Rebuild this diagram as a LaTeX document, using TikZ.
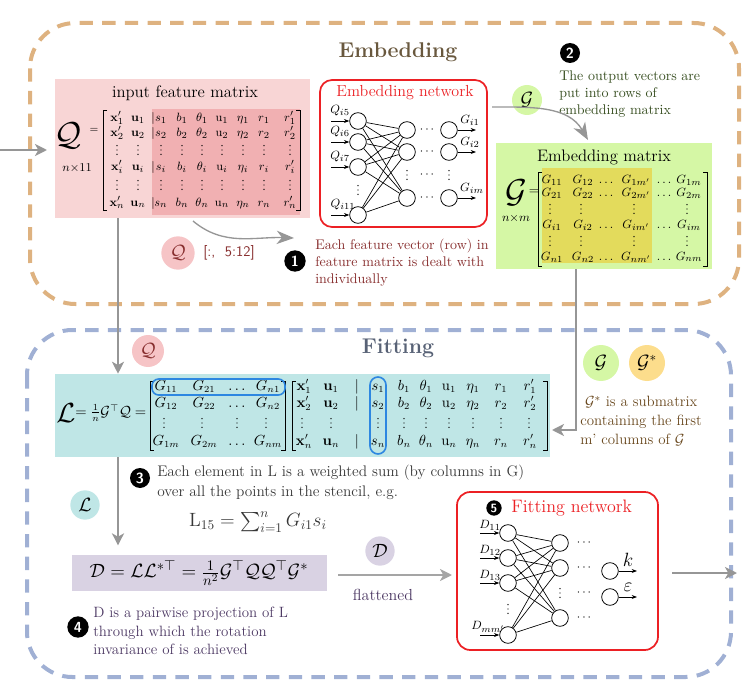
\documentclass[tikz,border=0pt]{standalone}
\usepackage{amsmath}
\usetikzlibrary{arrows.meta,fit,calc}
\definecolor{tanline}{RGB}{222,178,128}
\definecolor{blueline}{RGB}{160,176,212}
\definecolor{pinkbg}{RGB}{248,213,213}
\definecolor{pinkdark}{RGB}{241,176,178}
\definecolor{greenbg}{RGB}{213,247,165}
\definecolor{yellowbg}{RGB}{227,219,92}
\definecolor{tealbg}{RGB}{191,230,230}
\definecolor{lavbg}{RGB}{217,210,227}
\definecolor{orangebg}{RGB}{252,221,140}
\definecolor{pinkcirc}{RGB}{246,196,198}
\definecolor{arrowgrey}{RGB}{150,150,150}
\definecolor{embtitle}{RGB}{105,88,62}
\definecolor{fittitle}{RGB}{88,98,118}
\definecolor{txtred}{RGB}{135,45,45}
\definecolor{txtgreen}{RGB}{55,78,32}
\definecolor{txtbrown}{RGB}{105,72,30}
\definecolor{txtpurple}{RGB}{75,55,98}
\definecolor{txtgrey}{RGB}{55,55,55}
\definecolor{netred}{RGB}{236,32,36}
\definecolor{hlblue}{RGB}{45,135,225}
\begin{document}
\begin{tikzpicture}[x=0.75pt,y=-0.75pt,
  ent/.style={inner sep=0pt, text height=1.5ex, text depth=0.4ex},
  vd/.style={inner sep=0pt},
  vdp/.pic={\fill (0,-4.4) circle (0.5pt); \fill (0,0) circle (0.5pt); \fill (0,4.4) circle (0.5pt);},
  neuron/.style={circle, draw, line width=0.6pt, minimum size=12.5pt, inner sep=0pt},
  nlink/.style={line width=0.5pt},
  narrow/.style={line width=0.6pt, -{Stealth[length=4pt,width=3pt]}},
  garrow/.style={draw=arrowgrey, line width=1.5pt, -{Stealth[length=9pt,width=9pt,inset=2.5pt]}},
  carrow/.style={draw=arrowgrey, line width=1pt, -{Stealth[length=13pt,width=10pt,inset=4pt]}},
  bubble/.style={circle, inner sep=0pt, font=\fontsize{14}{14}\selectfont},
  numc/.style={circle, fill=black, text=white, inner sep=0pt, minimum size=15pt, font=\sffamily\bfseries\fontsize{11}{11}\selectfont},
  brk/.style={line width=0.6pt},
  tx/.style={inner sep=0pt, anchor=west, align=left},
  dashbox/.style={line width=3pt, dash pattern=on 10pt off 7pt, rounded corners=34pt}
]
\useasboundingbox (0,0) rectangle (747,699);

% ---------- dashed frames ----------
\draw[dashbox, tanline] (30,23) rectangle (739,304);
\draw[dashbox, blueline] (27,330) rectangle (731,677);
\node[font=\bfseries\fontsize{16}{18}\selectfont, text=embtitle] (embt) at (398,52) {Embedding};
\node[font=\bfseries\fontsize{16}{18}\selectfont, text=fittitle] (fitt) at (398,348) {Fitting};

% ---------- input feature matrix ----------
\node[fit={(55,79) (310,218)}, inner sep=0pt, fill=pinkbg] (pinkbox) {};
\fill[pinkdark] (152,109) rectangle (300,215);
\node[font=\fontsize{12.5}{14}\selectfont] (qtitle) at (185,93) {input feature matrix};
\node[font=\fontsize{24}{24}\selectfont] (qsym) at (68,136) {$\mathcal{Q}$};
\node[font=\fontsize{8}{8}\selectfont] (qeq) at (94,130) {$=$};
\node[font=\fontsize{9}{9}\selectfont] (qdim) at (77,168) {$n{\times}11$};
\draw[brk] (107,110) -- (103,110) -- (103,210) -- (107,210);
\draw[brk] (296,110) -- (300,110) -- (300,210) -- (296,210);
\begin{scope}[font=\fontsize{9.5}{10}\selectfont]
\foreach \yy/\s in {118/1,133/2,167/i,203/n}{
  \node[ent] (qx\s) at (117,\yy) {$\mathbf{x}'_{\s}$};
  \node[ent] (qu\s) at (138,\yy) {$\mathbf{u}_{\s}$};
  \node[ent] (qv\s) at (153,\yy) {$|$};
  \node[ent] (qs\s) at (161,\yy) {$s_{\s}$};
  \node[ent] (qb\s) at (182,\yy) {$b_{\s}$};
  \node[ent] (qt\s) at (202,\yy) {$\theta_{\s}$};
  \node[ent] (qr\s) at (222,\yy) {$\mathrm{u}_{\s}$};
  \node[ent] (qe\s) at (243,\yy) {$\eta_{\s}$};
  \node[ent] (qo\s) at (264,\yy) {$r_{\s}$};
  \node[ent] (qp\s) at (290,\yy) {$r'_{\s}$};
}
\end{scope}
\foreach \yy in {150,185}{
  \foreach \xx in {117,138,161,182,202,222,243,264,290}{
    \pic at (\xx,\yy) {vdp};
  }
}

% ---------- embedding network ----------
\node[fit={(320,80) (487,227)}, inner sep=0pt, draw=netred, line width=1.3pt, rounded corners=9pt, fill=white] (enetbox) {};
\node[text=netred, font=\fontsize{12}{13}\selectfont] (enettitle) at (405,93) {Embedding network};
\foreach \i/\yy in {1/121,2/142,3/167,4/215}{
  \node[neuron] (ei\i) at (358,\yy) {};
  \coordinate (ea\i) at (331,\yy);
  \draw[narrow] (ea\i) -- (ei\i);
}
\foreach \i/\yy in {1/130,2/152,3/198}{
  \node[neuron] (eh\i) at (407,\yy) {};
  \node[neuron] (eo\i) at (449,\yy) {};
  \coordinate (eb\i) at (476,\yy);
  \draw[narrow] (eo\i) -- (eb\i);
}
\foreach \a in {1,...,4}{\foreach \b in {1,2,3}{\draw[nlink] (ei\a) -- (eh\b);}}
\begin{scope}[font=\fontsize{9.5}{9.5}\selectfont]
\node (lq5) at (340,111) {$Q_{i5}$};
\node (lq6) at (340,132) {$Q_{i6}$};
\node (lq7) at (340,157) {$Q_{i7}$};
\node (lq11) at (343,205) {$Q_{i11}$};
\node (lg1) at (470,120) {$G_{i1}$};
\node (lg2) at (470,142) {$G_{i2}$};
\node (lg3) at (472,188) {$G_{im}$};
\foreach \yy/\k in {130/1,152/2,175/3,198/4}{\node[vd] (ec\k) at (428,\yy) {$\cdots$};}
\end{scope}
\pic at (358,190) {vdp};
\pic at (407,175) {vdp};
\pic at (449,175) {vdp};

% ---------- embedding matrix ----------
\node[fit={(496,143) (712,269)}, inner sep=0pt, fill=greenbg] (gbox) {};
\fill[yellowbg] (542,168) rectangle (652,263);
\node[font=\fontsize{12.5}{14}\selectfont] (gtitle) at (604,157) {Embedding matrix};
\node[font=\fontsize{24}{24}\selectfont] (gsym) at (516,193) {$\mathcal{G}$};
\node[font=\fontsize{10}{10}\selectfont] (geq) at (534,192) {$=$};
\node[font=\fontsize{9.5}{9.5}\selectfont] (gdim) at (516,218) {$n{\times}m$};
\draw[brk] (542,172) -- (538,172) -- (538,266) -- (542,266);
\draw[brk] (703,172) -- (707,172) -- (707,266) -- (703,266);
\begin{scope}[font=\fontsize{9.5}{10}\selectfont]
\foreach \yy/\s in {180/1,193/2,225/i,257/n}{
  \node[ent] (ga\s) at (552,\yy) {$G_{\s1}$};
  \node[ent] (gb\s) at (583,\yy) {$G_{\s2}$};
  \node[ent] (gc\s) at (606,\yy) {$\ldots$};
  \node[ent] (gd\s) at (636,\yy) {$G_{\s m'}$};
  \node[ent] (ge\s) at (664,\yy) {$\ldots$};
  \node[ent] (gf\s) at (689,\yy) {$G_{\s m}$};
}
\end{scope}
\foreach \yy in {209,241}{
  \foreach \xx in {550,581,634,687}{
    \pic at (\xx,\yy) {vdp};
  }
}

% ---------- notes in embedding ----------
\node[bubble, fill=greenbg, minimum size=22.5pt] (bg1) at (527,100) {$\mathcal{G}$};
\node[numc] (n2) at (570,53) {2};
\node[tx, text=txtgreen, font=\fontsize{10.5}{12.75}\selectfont] (t2) at (559,94) {The output vectors are\\put into rows of\\embedding matrix};
\node[bubble, fill=pinkcirc, minimum size=25pt, text=txtred] (bq1) at (178,253) {$\mathcal{Q}$};
\node[text=txtred, font=\sffamily\fontsize{11}{12}\selectfont] (slice) at (229,253) {[:,~~5:12]};
\node[numc, minimum size=16pt] (n1) at (295,261) {1};
\node[tx, text=txtred, font=\fontsize{10.5}{12.75}\selectfont] (t1) at (315,263) {Each feature vector (row) in\\feature matrix is dealt with\\individually};
\coordinate (c1s) at (193,221);
\coordinate (c1e) at (294,238);
\draw[carrow] (c1s) to[out=-40,in=178] (c1e);
\coordinate (c2s) at (492,107);
\coordinate (c2e) at (588,140);
\draw[carrow] (c2s) to[out=0,in=120] (c2e);

% ---------- L box ----------
\node[fit={(55,374) (550,457)}, inner sep=0pt, fill=tealbg] (Lbox) {};
\node[font=\fontsize{20}{20}\selectfont] (Lsym) at (66,413) {$\mathcal{L}$};
\node[tx, font=\fontsize{10.5}{12}\selectfont] (Leq) at (75,413) {$=\tfrac{1}{n}\mathcal{G}^{\top}\mathcal{Q}=$};
\draw[brk] (154,381) -- (150,381) -- (150,450) -- (154,450);
\draw[brk] (281,381) -- (285,381) -- (285,450) -- (281,450);
\draw[brk] (296,381) -- (292,381) -- (292,450) -- (296,450);
\draw[brk] (543,381) -- (547,381) -- (547,450) -- (543,450);
\begin{scope}[font=\fontsize{10.5}{11}\selectfont]
\foreach \yy/\s/\t in {387/1/1,404/2/2,442/m/n}{
  \node[ent] (la\s) at (166,\yy) {$G_{1\s}$};
  \node[ent] (lb\s) at (204,\yy) {$G_{2\s}$};
  \node[ent] (lc\s) at (237,\yy) {$\ldots$};
  \node[ent] (ld\s) at (268,\yy) {$G_{n\s}$};
  \node[ent] (mx\t) at (304,\yy) {$\mathbf{x}'_{\t}$};
  \node[ent] (mu\t) at (331,\yy) {$\mathbf{u}_{\t}$};
  \node[ent] (mv\t) at (357,\yy) {$|$};
  \node[ent] (ms\t) at (378,\yy) {$s_{\t}$};
  \node[ent] (mb\t) at (404,\yy) {$b_{\t}$};
  \node[ent] (mt\t) at (426,\yy) {$\theta_{\t}$};
  \node[ent] (mr\t) at (449,\yy) {$\mathrm{u}_{\t}$};
  \node[ent] (me\t) at (473,\yy) {$\eta_{\t}$};
  \node[ent] (mo\t) at (501,\yy) {$r_{\t}$};
  \node[ent] (mp\t) at (530,\yy) {$r'_{\t}$};
}
\end{scope}
\foreach \xx in {164,202,237,266,302,331,378,404,426,449,473,501,529}{
  \pic at (\xx,423) {vdp};
}
\draw[hlblue, line width=1.2pt, rounded corners=5pt] (152,379) rectangle (285,395);
\draw[hlblue, line width=1.2pt, rounded corners=6pt] (370,377) rectangle (386,454);

% ---------- G, G* notes ----------
\node[bubble, fill=greenbg, minimum size=27pt] (bg2) at (601,363) {$\mathcal{G}$};
\node[bubble, fill=orangebg, minimum size=27pt] (bgs) at (647,363) {$\mathcal{G}^{*}$};
\node[tx, text=txtbrown, font=\fontsize{11.2}{14}\selectfont] (tg) at (580,421) {~$\mathcal{G}^{*}$ is a submatrix\\containing the first\\m' columns of $\mathcal{G}$};

% ---------- vertical connectors ----------
\coordinate (qxc) at (118,0);
\draw[garrow] (pinkbox.south -| qxc) -- (Lbox.north -| qxc);
\node[bubble, fill=pinkcirc, minimum size=24pt, text=txtred] (bq2) at (148,351) {$\mathcal{Q}$};
\coordinate (gxc) at (576,0);
\coordinate (Lin) at (552,430);
\draw[garrow] (gbox.south -| gxc) -- (gxc |- Lin) -- (Lin);

% ---------- step 3 ----------
\node[numc] (n3) at (140,478) {3};
\node[tx, text=txtgrey, font=\fontsize{11.5}{15}\selectfont] (t3) at (157,482) {Each element in L is a weighted sum (by columns in G)\\over all the points in the stencil, e.g.};
\node[text=txtgrey, font=\fontsize{14}{16}\selectfont] (sumf) at (258,522) {$\mathrm{L}_{15}=\sum_{i=1}^{n}G_{i1}s_i$};
\node[bubble, fill=tealbg, minimum size=22pt] (bl) at (85,505) {$\mathcal{L}$};

% ---------- D box ----------
\node[fit={(72,555) (327,591)}, inner sep=0pt, fill=lavbg] (Dbox) {};
\node[font=\fontsize{15.5}{17}\selectfont] (Dform) at (199,573) {$\mathcal{D}=\mathcal{L}\mathcal{L}^{*\top}=\tfrac{1}{n^2}\mathcal{G}^{\top}\mathcal{Q}\mathcal{Q}^{\top}\mathcal{G}^{*}$};
\draw[garrow, shorten >=7pt] (Lbox.south -| qxc) -- (Dbox.north -| qxc);
\node[numc, minimum size=16pt] (n4) at (78,627) {4};
\node[tx, text=txtpurple, font=\fontsize{11.2}{14}\selectfont] (t4) at (93,631) {D is a pairwise projection of L\\through which the rotation\\invariance of is achieved};
\node[bubble, fill=lavbg, minimum size=22pt] (bd) at (380,551) {$\mathcal{D}$};
\node[text=txtpurple, font=\fontsize{12}{13}\selectfont] (flat) at (383,595) {flattened};
\coordinate (dl) at (338,575);
\coordinate (dr) at (452,575);
\draw[garrow, line width=2pt, draw={rgb,255:red,165;green,165;blue,165}] (dl) -- (dr);

% ---------- fitting network ----------
\node[fit={(457,492) (658,650)}, inner sep=0pt, draw=netred, line width=1.3pt, rounded corners=10pt, fill=white] (fnetbox) {};
\node[numc, minimum size=11.5pt, font=\sffamily\bfseries\fontsize{9}{9}\selectfont] (n5) at (494,508) {5};
\node[tx, text=netred, font=\fontsize{13.5}{15}\selectfont] (fnt) at (511,508) {Fitting network};
\foreach \i/\yy in {1/533,2/558,3/583,4/635}{
  \node[neuron] (fi\i) at (508,\yy) {};
  \coordinate (fa\i) at (480,\yy);
  \draw[narrow] (fa\i) -- (fi\i);
}
\foreach \i/\yy in {1/543,2/568,3/618}{
  \node[neuron] (fh\i) at (560,\yy) {};
}
\foreach \a in {1,...,4}{\foreach \b in {1,2,3}{\draw[nlink] (fi\a) -- (fh\b);}}
\foreach \i/\yy in {1/571,2/597}{
  \node[neuron] (fo\i) at (610,\yy) {};
  \coordinate (fb\i) at (637,\yy);
  \draw[narrow] (fo\i) -- (fb\i);
}
\begin{scope}[font=\fontsize{9.5}{9.5}\selectfont]
\node (ld1) at (490,525) {$D_{11}$};
\node (ld2) at (490,550) {$D_{12}$};
\node (ld3) at (490,575) {$D_{13}$};
\node (ld4) at (488,627) {$D_{mm'}$};
\foreach \yy/\k in {543/1,568/2,593/3,618/4}{\node[vd] (fc\k) at (585,\yy) {$\cdots$};}
\end{scope}
\pic at (508,609) {vdp};
\pic at (560,593) {vdp};
\node[font=\fontsize{14}{14}\selectfont] (lk) at (628,560) {$k$};
\node[font=\fontsize{14}{14}\selectfont] (leps) at (628,587) {$\varepsilon$};
\coordinate (fo1s) at (672,573);
\coordinate (fo1e) at (737,573);
\draw[garrow] (fo1s) -- (fo1e);

% ---------- input arrow ----------
\coordinate (inL) at (0,150);
\coordinate (inR) at (47,150);
\draw[garrow] (inL) -- (inR);
\end{tikzpicture}
\end{document}
